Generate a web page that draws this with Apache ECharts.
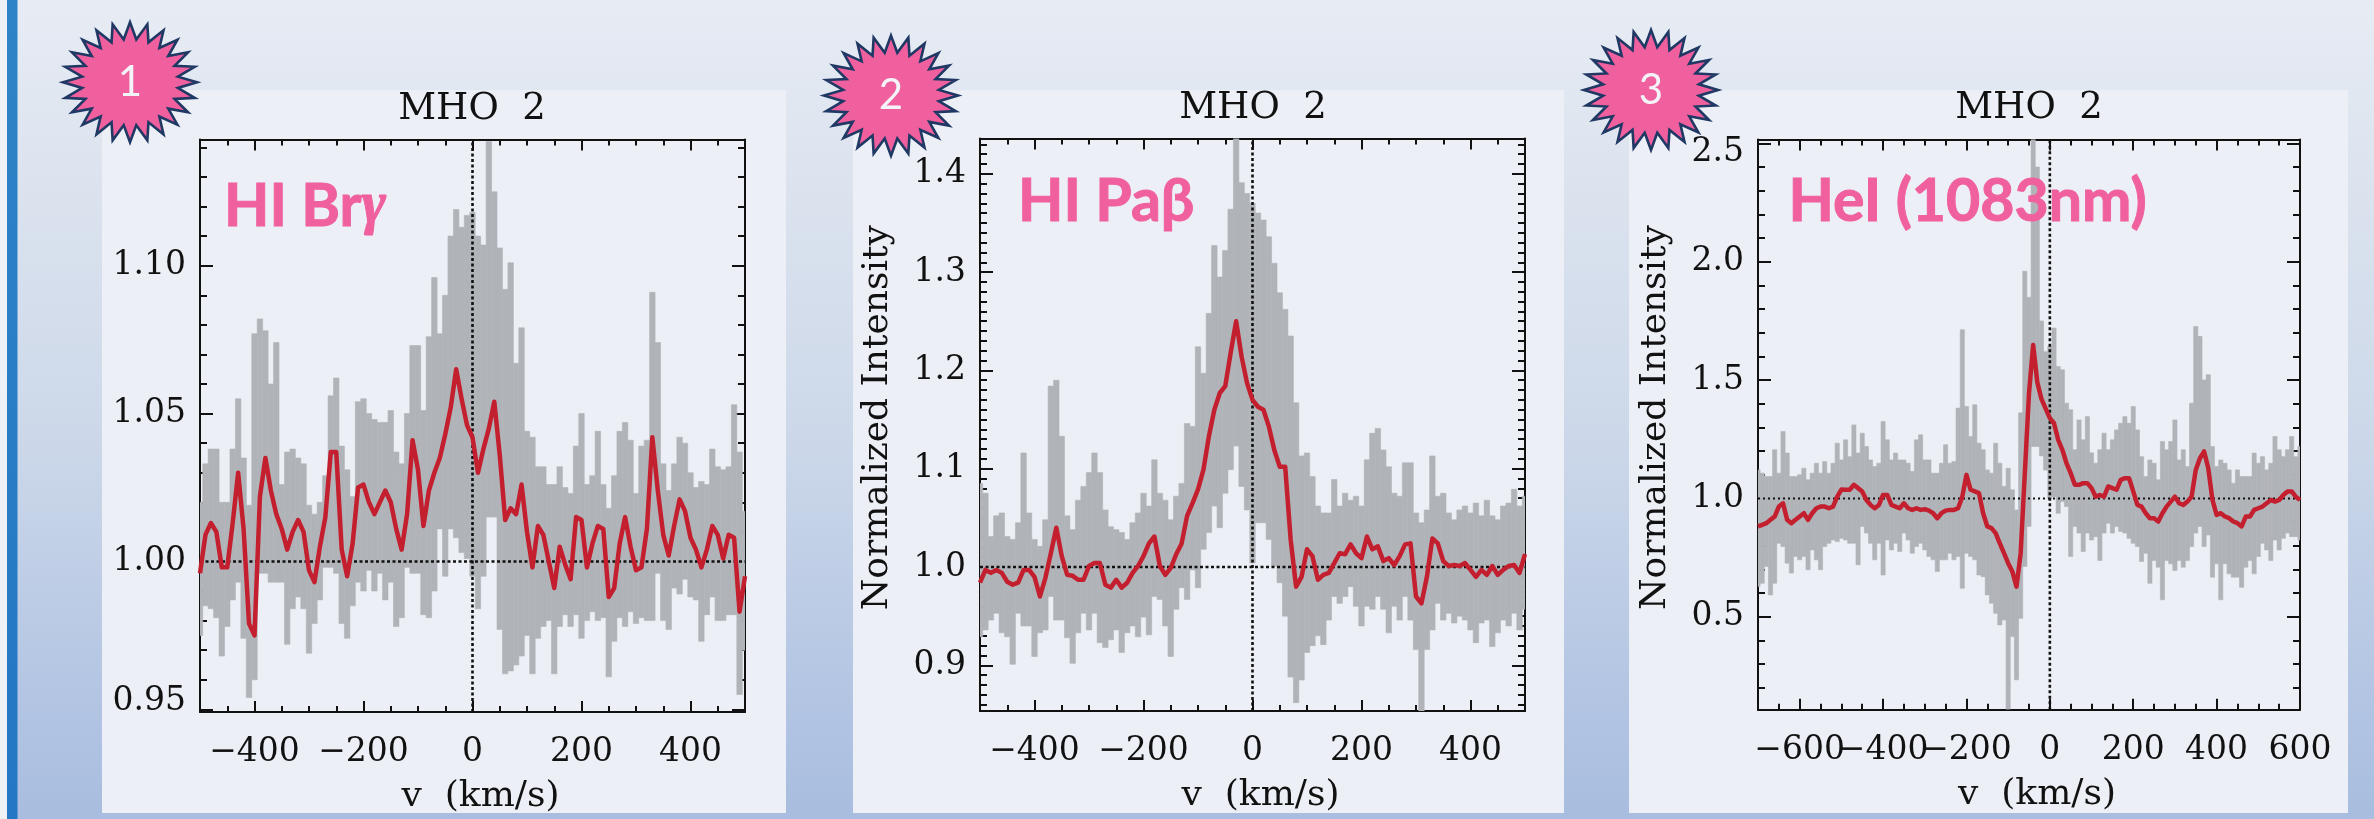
<!DOCTYPE html>
<html><head><meta charset="utf-8">
<style>html,body{margin:0;padding:0;width:2374px;height:819px;overflow:hidden}#c{width:2374px;height:819px}</style>
<script src="https://cdn.jsdelivr.net/npm/echarts@6/dist/echarts.min.js"></script>
</head><body><div id="c"></div>
<script>
// ---------- data ----------
const velocityA = [-500,-490,-480,-470,-460,-450,-440,-430,-420,-410,-400,-390,-380,-370,-360,-350,-340,-330,-320,-310,-300,-290,-280,-270,-260,-250,-240,-230,-220,-210,-200,-190,-180,-170,-160,-150,-140,-130,-120,-110,-100,-90,-80,-70,-60,-50,-40,-30,-20,-10,0,10,20,30,40,50,60,70,80,90,100,110,120,130,140,150,160,170,180,190,200,210,220,230,240,250,260,270,280,290,300,310,320,330,340,350,360,370,380,390,400,410,420,430,440,450,460,470,480,490,500];
const velocityB = [-700,-690,-680,-670,-660,-650,-640,-630,-620,-610,-600,-590,-580,-570,-560,-550,-540,-530,-520,-510,-500,-490,-480,-470,-460,-450,-440,-430,-420,-410,-400,-390,-380,-370,-360,-350,-340,-330,-320,-310,-300,-290,-280,-270,-260,-250,-240,-230,-220,-210,-200,-190,-180,-170,-160,-150,-140,-130,-120,-110,-100,-90,-80,-70,-60,-50,-40,-30,-20,-10,0,10,20,30,40,50,60,70,80,90,100,110,120,130,140,150,160,170,180,190,200,210,220,230,240,250,260,270,280,290,300,310,320,330,340,350,360,370,380,390,400,410,420,430,440,450,460,470,480,490,500,510,520,530,540,550,560,570,580,590,600];

const brMean = [.996,1.009,1.013,1.010,.998,.998,1.013,1.030,1.011,.979,.975,1.022,1.035,1.024,1.016,1.011,1.004,1.010,1.014,1.010,.997,.993,1.005,1.015,1.037,1.037,1.004,.995,1.006,1.025,1.026,1.020,1.016,1.020,1.024,1.020,1.011,1.004,1.016,1.041,1.031,1.012,1.024,1.030,1.035,1.043,1.052,1.065,1.055,1.046,1.042,1.030,1.038,1.045,1.054,1.036,1.014,1.018,1.016,1.026,1.010,.998,1.012,1.009,1.000,.991,1.005,.999,.994,1.015,1.014,.998,1.006,1.012,1.011,.988,.991,1.006,1.015,1.005,.997,.998,1.011,1.042,1.024,1.009,1.002,1.012,1.021,1.017,1.008,1.004,.998,1.004,1.012,1.009,1.001,1.009,1.008,.983,.995];
const brUpper = [1.020,1.033,1.038,1.038,1.020,1.020,1.038,1.055,1.035,1.019,1.077,1.082,1.078,1.060,1.074,1.026,1.037,1.038,1.035,1.033,1.019,1.016,1.020,1.029,1.056,1.062,1.039,1.031,1.022,1.054,1.055,1.050,1.048,1.047,1.047,1.051,1.037,1.033,1.050,1.073,1.073,1.051,1.076,1.096,1.077,1.090,1.110,1.119,1.113,1.117,1.118,1.110,1.107,1.142,1.125,1.106,1.092,1.101,1.067,1.079,1.044,1.042,1.032,1.032,1.026,1.026,1.032,1.025,1.023,1.039,1.050,1.026,1.029,1.044,1.026,1.018,1.029,1.044,1.047,1.041,1.023,1.039,1.041,1.091,1.074,1.033,1.024,1.033,1.042,1.040,1.030,1.025,1.027,1.026,1.038,1.032,1.031,1.032,1.053,1.037,1.017];
const brLower = [.975,.985,.984,.981,.968,.978,.987,.993,.974,.954,.960,.996,.996,.993,.993,.993,.972,.984,.988,.984,.969,.979,.987,.998,.998,.996,.979,.974,.985,.993,.990,.997,.990,.996,.987,.993,.978,.981,.998,.996,.996,.982,.981,.990,1.011,.995,1.011,1.008,1.003,1.001,.995,.984,.995,1.015,1.015,.977,.962,.963,.965,.968,.975,.962,.974,.978,.980,.962,.978,.982,.978,.982,.974,.980,.983,.980,.981,.961,.973,.981,.978,.983,.979,.981,.980,.980,.996,.980,.977,.991,.989,.994,.988,.987,.973,.982,.988,.980,.980,.982,.982,.955,.970];

const paMean = [.984,.997,.994,.997,.994,.985,.982,.984,.997,.997,.990,.970,.989,1.014,1.040,1.011,.992,.991,.987,.987,1.001,1.004,1.004,.982,.979,.987,.979,.984,.994,1.001,1.011,1.024,1.031,1.001,.992,.999,1.013,1.024,1.052,1.065,1.079,1.099,1.133,1.160,1.177,1.184,1.218,1.250,1.214,1.187,1.170,1.163,1.160,1.143,1.119,1.102,1.102,1.028,.980,.990,1.018,1.011,.987,.992,.994,1.004,1.014,1.013,1.023,1.014,1.009,1.031,1.018,1.021,1.006,1.009,1.002,1.011,1.023,1.024,.970,.963,.990,1.029,1.024,1.006,1.001,1.002,1.001,1.004,.997,.990,.997,.992,1.001,.992,.997,1.001,1.002,.994,1.013];
const paUpper = [1.085,1.075,1.031,1.052,1.055,1.031,1.028,1.045,1.116,1.055,1.028,1.021,1.048,1.184,1.190,1.133,1.052,1.038,1.068,1.082,1.096,1.116,1.096,1.058,1.041,1.038,1.035,1.028,1.045,1.055,1.075,1.062,1.109,1.075,1.068,1.048,1.072,1.085,1.146,1.143,1.224,1.197,1.258,1.327,1.295,1.322,1.364,1.436,1.391,1.380,1.370,1.360,1.353,1.336,1.309,1.279,1.262,1.235,1.167,1.113,1.116,1.092,1.062,1.055,1.055,1.089,1.062,1.075,1.068,1.072,1.062,1.109,1.136,1.141,1.119,1.102,1.075,1.072,1.106,1.106,1.055,1.045,1.058,1.113,1.072,1.075,1.055,1.048,1.058,1.062,1.055,1.065,1.052,1.068,1.052,1.048,1.062,1.065,1.079,1.062,1.072];
const paLower = [.929,.936,.946,.953,.933,.929,.901,.953,.940,.940,.909,.933,.936,.970,.946,.946,.928,.902,.933,.953,.936,.953,.923,.918,.926,.936,.913,.933,.940,.929,.949,.931,.970,.967,.940,.909,.957,.979,.967,.997,.979,1.018,1.035,1.062,1.040,1.075,1.099,1.123,1.082,1.058,1.004,1.045,1.045,1.028,1.001,.984,.950,.888,.862,.885,.913,.920,.930,.921,.946,.970,.963,.970,.980,.960,.940,.960,.957,.970,.957,.933,.960,.946,.970,.946,.916,.853,.916,.936,.963,.946,.953,.943,.950,.946,.936,.923,.943,.946,.919,.933,.946,.940,.953,.936,.957];

const heMean = [.882,.889,.896,.910,.924,.966,.980,.910,.896,.910,.924,.938,.910,.938,.959,.966,.966,.959,.966,1.008,1.038,1.037,1.037,1.058,1.044,1.030,.994,.973,.959,.973,1.015,1.015,.973,.966,.959,.980,.959,.952,.959,.952,.955,.949,.938,.917,.938,.949,.952,.952,.959,1.008,1.100,1.037,1.030,1.023,.938,.882,.875,.854,.811,.769,.727,.692,.628,.769,1.107,1.445,1.649,1.490,1.420,1.380,1.340,1.318,1.248,1.206,1.149,1.107,1.058,1.058,1.065,1.065,1.044,1.008,1.015,1.008,1.051,1.044,1.037,1.079,1.086,1.086,1.030,.973,.966,.938,.917,.917,.903,.938,.966,.987,1.008,.980,.973,.987,1.008,1.121,1.170,1.199,1.128,.994,.931,.938,.924,.917,.903,.896,.882,.924,.924,.952,.959,.966,.980,.994,.987,.994,1.015,1.030,1.030,1.008,.994];
const heUpper = [1.121,1.107,1.093,1.093,1.206,1.107,1.283,1.192,1.093,1.093,1.100,1.128,1.079,1.107,1.149,1.107,1.156,1.107,1.149,1.234,1.163,1.248,1.177,1.311,1.192,1.276,1.220,1.163,1.135,1.149,1.325,1.248,1.163,1.192,1.163,1.163,1.149,1.114,1.248,1.269,1.163,1.163,1.107,1.107,1.149,1.227,1.149,1.156,1.382,1.713,1.389,1.262,1.396,1.234,1.206,1.121,1.107,1.234,1.149,1.051,1.128,1.037,.952,1.362,1.960,1.850,2.520,2.400,1.750,1.620,1.642,1.720,1.558,1.544,1.403,1.375,1.206,1.332,1.248,1.346,1.193,1.149,1.206,1.276,1.206,1.248,1.290,1.318,1.346,1.318,1.389,1.290,1.177,1.093,1.163,1.149,1.079,1.241,1.206,1.241,1.332,1.163,1.206,1.135,1.403,1.727,1.685,1.501,1.523,1.220,1.135,1.163,1.149,1.121,1.065,1.121,1.093,1.093,1.093,1.192,1.149,1.177,1.121,1.149,1.262,1.206,1.177,1.206,1.262,1.177,1.220];
const heLower = [.628,.642,.713,.593,.642,.811,.797,.727,.685,.755,.741,.755,.699,.783,.741,.699,.797,.811,.825,.818,.832,.825,.811,.811,.720,.882,.854,.811,.741,.811,.677,.825,.783,.811,.776,.854,.825,.769,.797,.811,.783,.755,.741,.692,.741,.741,.769,.741,.755,.621,.769,.755,.741,.677,.670,.593,.558,.515,.466,.487,.110,.417,.234,.494,.713,.882,1.220,1.220,1.180,1.120,1.000,1.008,.938,.987,.966,.755,.882,.854,.776,.854,.825,.839,.738,.854,.896,.854,.882,.861,.854,.832,.811,.797,.734,.769,.642,.738,.710,.572,.738,.724,.696,.738,.710,.738,.797,.854,.882,.797,.846,.668,.724,.572,.724,.682,.668,.668,.625,.710,.738,.682,.755,.811,.783,.738,.825,.783,.832,.854,.839,.839,.825];

const xTicksA = [-400,-200,0,200,400];
const xMinorA = [-500,-450,-400,-350,-300,-250,-200,-150,-100,-50,0,50,100,150,200,250,300,350,400,450,500];
const xTicksB = [-600,-400,-200,0,200,400,600];
const xLabelsBMain = [-600,-200,0,200,400,600];
const xLabelsBExtra = [-400];
const xMinorB = [-700,-650,-600,-550,-500,-450,-400,-350,-300,-250,-200,-150,-100,-50,0,50,100,150,200,250,300,350,400,450,500,550,600];
const brYTicks = [.95,1.00,1.05,1.10];
const brYLabels = [.9527,1.00,1.05,1.10];
const brYMinor = [.95,.96,.97,.98,.99,1,1.01,1.02,1.03,1.04,1.05,1.06,1.07,1.08,1.09,1.10,1.11,1.12,1.13,1.14];
const paYTicks = [.9,1.0,1.1,1.2,1.3,1.4];
const paYMinor = [.86,.87,.88,.89,.9,.91,.92,.93,.94,.95,.96,.97,.98,.99,1,1.01,1.02,1.03,1.04,1.05,1.06,1.07,1.08,1.09,1.1,1.11,1.12,1.13,1.14,1.15,1.16,1.17,1.18,1.19,1.2,1.21,1.22,1.23,1.24,1.25,1.26,1.27,1.28,1.29,1.3,1.31,1.32,1.33,1.34,1.35,1.36,1.37,1.38,1.39,1.4,1.41,1.42,1.43];
const heYTicks = [.5,1.0,1.5,2.0,2.5];
const heYLabels = [.5,1.0,1.5,2.0,2.46];
const heYMinor = [.2,.3,.4,.5,.6,.7,.8,.9,1,1.1,1.2,1.3,1.4,1.5,1.6,1.7,1.8,1.9,2,2.1,2.2,2.3,2.4,2.5];

const lineTitle = 'MHO  2';
const xName = 'v  (km/s)';
const yName = 'Normalized Intensity';
const lineLabels = ['HI Br', 'HI Paβ', 'HeI (1083nm)'];
const badges = ['1','2','3'];

// ---------- layout and styles ----------
const GRAY='#b0b3b8', RED='#c41f2e', INK='#111', PANEL='#ecf0f6', PINK='#f0609e', NAVY='#1f3864';
const FONT='"DejaVu Serif", serif';
const panels=[
 {rect:[102,90,684,723],grid:[200,139.4,545,572.6],x:[-500,500],y:[.9491,1.1427],v:velocityA,mean:brMean,up:brUpper,lo:brLower,xT:xTicksA,xL:xTicksA,xL2:null,xM:xMinorA,yT:brYTicks,yL:brYLabels,yM:brYMinor,dec:2,yName:false,titleX:467,titleY:86,lab:[224,236],star:[130,82.3]},
 {rect:[853,90,711,723],grid:[980,138.4,545,572.6],x:[-500,500],y:[.8535,1.436],v:velocityA,mean:paMean,up:paUpper,lo:paLower,xT:xTicksA,xL:xTicksA,xL2:null,xM:xMinorA,yT:paYTicks,yL:paYTicks,yM:paYMinor,dec:1,yName:true,titleX:1248,titleY:85,lab:[1018,231],star:[891,95.6]},
 {rect:[1629,90,719,723],grid:[1758,139.4,542,570.3],x:[-700,600],y:[.108,2.517],v:velocityB,mean:heMean,up:heUpper,lo:heLower,xT:xTicksB,xL:xLabelsBMain,xL2:xLabelsBExtra,xM:xMinorB,yT:heYTicks,yL:heYLabels,yM:heYMinor,dec:1,yName:true,titleX:2024,titleY:85,lab:[1788.5,231],star:[1651,90]}
];
const zip=(a,b)=>a.map((v,i)=>[v,b[i]]);
const grid=[],xAxis=[],yAxis=[],series=[],title=[],graphic=[];
const tickAxis=(pos,g,range,vals,len,extra)=>Object.assign({
  type:'value',gridIndex:g,position:pos,min:range[0],max:range[1],scale:true,
  splitLine:{show:false},minorTick:{show:false},
  axisLine:{show:false,onZero:false},
  axisTick:{show:true,inside:true,length:len,customValues:vals,lineStyle:{color:INK,width:2}},
  axisLabel:{show:false}
},extra||{});
const labelStyle=(vals,fmt,margin)=>({show:true,customValues:vals,formatter:fmt,margin:margin,fontFamily:FONT,fontSize:33,color:INK,hideOverlap:false,showMinLabel:true,showMaxLabel:true});
const lineAxis={show:true,onZero:false,lineStyle:{color:INK,width:2}};
const SAMPLE_HALF=5; // each sample spans one 10 km/s velocity bin
const renderBand=(params,api)=>{
  const v=api.value(0),a=api.coord([v-SAMPLE_HALF,api.value(2)]),b=api.coord([v+SAMPLE_HALF,api.value(1)]);
  return {type:'rect',shape:{x:a[0],y:a[1],width:b[0]-a[0],height:b[1]-a[1]},style:{fill:GRAY,stroke:GRAY,lineWidth:.6}};
};
panels.forEach((p,i)=>{
  const [L,T,W,H]=p.grid;
  grid.push({left:L,top:T,width:W,height:H,containLabel:false,outerBoundsMode:'none',z:2});
  const xBase=xAxis.length,yBase=yAxis.length;
  const fmtX=v=>String(v).replace('-','\u2212');
  xAxis.push(tickAxis('bottom',i,p.x,p.xT,11,{axisLine:lineAxis,axisLabel:labelStyle(p.xL,fmtX,24),
    name:xName,nameLocation:'middle',nameGap:67,nameTextStyle:{fontFamily:FONT,fontSize:36,color:INK,padding:[0,0,0,16]}}));
  xAxis.push(tickAxis('bottom',i,p.x,p.xM,6,p.xL2?{axisLabel:labelStyle(p.xL2,fmtX,24)}:{}));
  xAxis.push(tickAxis('top',i,p.x,p.xT,11,{axisLine:lineAxis}));
  xAxis.push(tickAxis('top',i,p.x,p.xM,6));
  const fmtY=v=>Number(v).toFixed(p.dec);
  yAxis.push(tickAxis('left',i,p.y,p.yT,13,{axisLine:lineAxis,axisLabel:labelStyle(p.yL,fmtY,14),
    name:p.yName?yName:'',nameLocation:'middle',nameGap:66,nameRotate:90,nameTextStyle:{fontFamily:FONT,fontSize:36,color:INK,padding:[0,0,18,14]}}));
  yAxis.push(tickAxis('left',i,p.y,p.yM,7));
  yAxis.push(tickAxis('right',i,p.y,p.yT,13,{axisLine:lineAxis}));
  yAxis.push(tickAxis('right',i,p.y,p.yM,7));
  const common={xAxisIndex:xBase,yAxisIndex:yBase,animation:false,silent:true};
  const lineCommon=Object.assign({type:'line',showSymbol:false},common);
  series.push(Object.assign({},common,{type:'custom',name:'spectra '+(i+1),z:2,clip:true,encode:{x:0,y:[1,2]},
    data:p.v.map((v,k)=>[v,p.lo[k],p.up[k]]),renderItem:renderBand}));
  const hd=i==2?{width:2,type:[2,3]}:{width:2.6,type:[3,2.5]};
  series.push(Object.assign({},lineCommon,{name:'continuum '+(i+1),z:3,data:[[p.x[0],1],[p.x[1],1]],lineStyle:Object.assign({color:INK},hd)}));
  series.push(Object.assign({},lineCommon,{name:'line centre '+(i+1),z:3,data:[[0,p.y[0]],[0,p.y[1]]],lineStyle:{color:INK,width:2.6,type:[3,2.5]}}));
  series.push(Object.assign({},lineCommon,{name:'mean '+(i+1),z:4,data:zip(p.v,p.mean),lineStyle:{color:RED,width:4.5,join:'round'}}));
  title.push({text:lineTitle,left:p.titleX,top:p.titleY,textAlign:'center',textStyle:{fontFamily:FONT,fontWeight:'normal',fontSize:37,color:INK}});
  graphic.push({type:'rect',z:-10,silent:true,shape:{x:p.rect[0],y:p.rect[1],width:p.rect[2],height:p.rect[3]},style:{fill:PANEL}});
  const n=24,rx=67,ry=60,inner=.72,pts=[];
  for(let k=0;k<n*2;k++){const r=k%2?inner:1,a=-Math.PI/2+k*Math.PI/n;pts.push([p.star[0]+rx*r*Math.cos(a),p.star[1]+ry*r*Math.sin(a)]);}
  graphic.push({type:'polygon',z:50,silent:true,shape:{points:pts},style:{fill:PINK,stroke:NAVY,lineWidth:2.6,lineJoin:'miter'}});
  graphic.push({type:'text',z:51,silent:true,x:p.star[0],y:p.star[1],style:{text:badges[i],fill:'#f4f4f8',font:'42px Lato',textAlign:'center',textVerticalAlign:'middle'}});
  const txt=i==0?'{a|'+lineLabels[0]+'}{g|γ}':'{a|'+lineLabels[i]+'}';
  graphic.push({type:'text',z:52,silent:true,x:p.lab[0],y:p.lab[1],style:{text:txt,textVerticalAlign:'bottom',fill:PINK,
    rich:{a:{font:'bold 59px Lato',fill:PINK,stroke:PINK,lineWidth:1},g:{font:'italic bold 59px "Liberation Serif"',fill:PINK,stroke:PINK,lineWidth:1}}}});
});
graphic.push({type:'rect',z:-9,silent:true,shape:{x:0,y:0,width:7,height:819},style:{fill:'#eef2f7'}});
graphic.push({type:'rect',z:-9,silent:true,shape:{x:7,y:0,width:10.5,height:819},style:{fill:{type:'linear',x:0,y:0,x2:0,y2:1,colorStops:[{offset:0,color:'#2e84c6'},{offset:1,color:'#2377c4'}]}}});
const chart=echarts.init(document.getElementById('c'),null,{renderer:'canvas',width:2374,height:819});
chart.setOption({animation:false,
 backgroundColor:{type:'linear',x:0,y:0,x2:0,y2:1,colorStops:[{offset:0,color:'#e7ecf4'},{offset:.2,color:'#dde4ef'},{offset:.55,color:'#cbd7e9'},{offset:.85,color:'#b3c5e3'},{offset:1,color:'#a8bddf'}]},
 title,grid,xAxis,yAxis,series,graphic});
</script></body></html>
